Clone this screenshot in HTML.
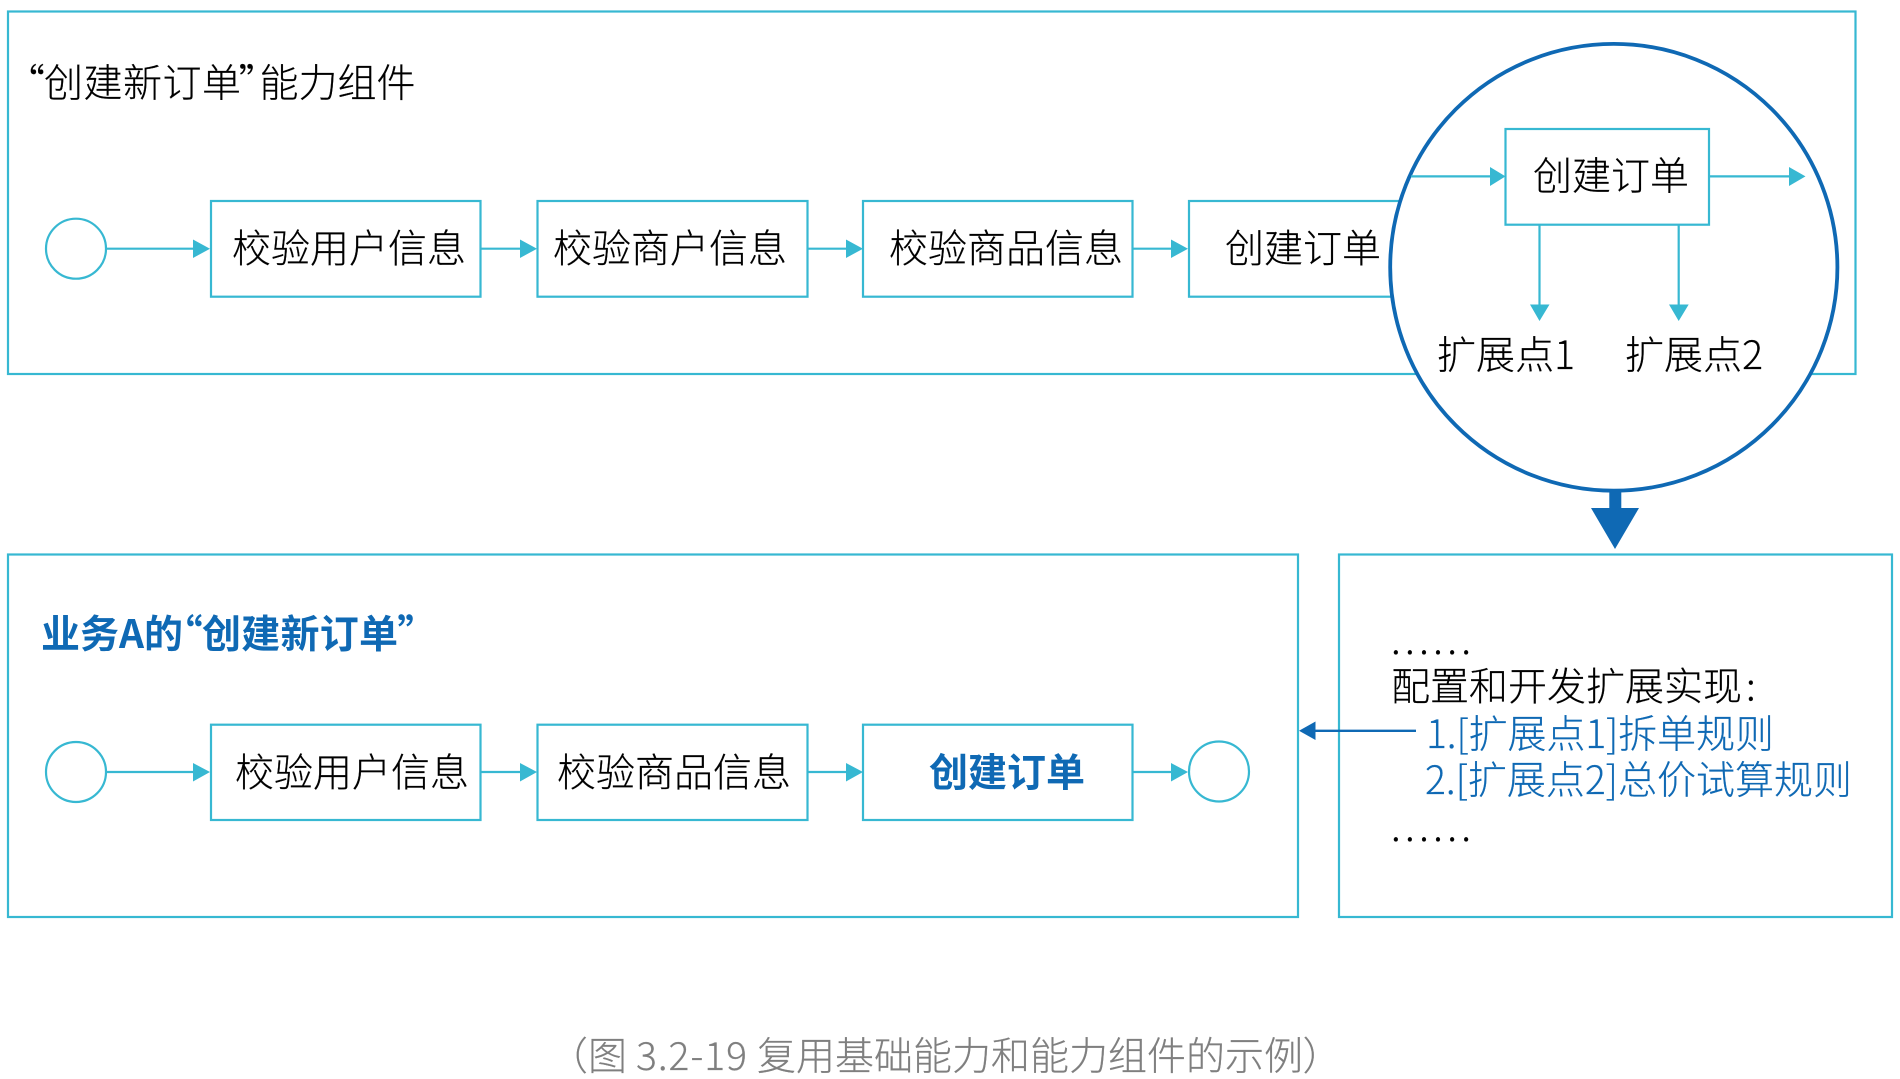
<!DOCTYPE html>
<html><head><meta charset="utf-8">
<style>
html,body{margin:0;padding:0;background:#fff;width:1900px;height:1079px;overflow:hidden}
svg{display:block}
text{font-family:"Noto Sans CJK SC","Noto Sans CJK JP",sans-serif;font-size:39px;font-weight:300;fill:#000;stroke:#000;stroke-width:.2}
.p{font-feature-settings:"palt"}
.b{fill:#0f69b4;stroke:#0f69b4}
.bb{fill:#0f69b4;stroke:none;font-weight:700}
.g{fill:#7f7f7f;stroke:#7f7f7f}
.box{fill:#fff;stroke:#37b8d2;stroke-width:2.2}
.l{stroke:#37b8d2;stroke-width:2.2;fill:none}
.h{fill:#37b8d2;stroke:none}
</style></head><body>
<svg width="1900" height="1079" viewBox="0 0 1900 1079" xmlns="http://www.w3.org/2000/svg">
<rect class="box" x="8" y="11.5" width="1847.5" height="362.5"/>
<rect class="box" x="8" y="554.5" width="1290" height="362.5"/>
<rect class="box" x="1339" y="554.5" width="553" height="362.5"/>

<text x="25" y="97" class="p">“</text>
<text x="44" y="97" textLength="197" lengthAdjust="spacing">创建新订单</text>
<text x="239" y="97" class="p">”</text>
<text x="259.5" y="97" textLength="156" lengthAdjust="spacing">能力组件</text>

<!-- upper row -->
<circle class="box" cx="76" cy="248.7" r="30"/>
<rect class="box" x="211" y="201" width="269.5" height="95.7"/>
<rect class="box" x="537.5" y="201" width="270" height="95.7"/>
<rect class="box" x="863" y="201" width="269.5" height="95.7"/>
<rect class="box" x="1189" y="201" width="270" height="95.7"/>
<path class="l" d="M106 248.7H195M481 248.7H522M808 248.7H848M1133 248.7H1174"/>
<path class="h" d="M193 239.5L210 248.7L193 258zM520 239.5L537 248.7L520 258zM846 239.5L863 248.7L846 258zM1171 239.5L1188 248.7L1171 258z"/>
<text x="232" y="262.7" textLength="234" lengthAdjust="spacing">校验用户信息</text>
<text x="553" y="262.7" textLength="234" lengthAdjust="spacing">校验商户信息</text>
<text x="889" y="262.7" textLength="234" lengthAdjust="spacing">校验商品信息</text>
<text x="1225" y="262.7" textLength="156" lengthAdjust="spacing">创建订单</text>

<!-- big circle -->
<ellipse cx="1613.8" cy="267.3" rx="223.6" ry="223.4" fill="#fff" stroke="#0f69b4" stroke-width="3.8"/>
<rect class="box" x="1505.5" y="129" width="203.5" height="95.7"/>
<path class="l" d="M1411 176.4H1492M1709 176.4H1790M1539.5 224.7V306M1678.7 224.7V306"/>
<path class="h" d="M1490 167L1505.5 176.4L1490 186zM1789 167L1805.5 176.4L1789 186zM1530 304.5H1549.5L1539.5 321zM1669 304.5H1688.7L1678.7 321z"/>
<text x="1533" y="190" textLength="156" lengthAdjust="spacing">创建订单</text>
<text x="1437" y="369" textLength="138" lengthAdjust="spacing">扩展点1</text>
<text x="1625" y="369" textLength="138" lengthAdjust="spacing">扩展点2</text>

<!-- big arrow -->
<path fill="#0f69b4" d="M1609.3 490H1621.3V508H1639L1615 549L1591 508H1609.3z"/>

<!-- lower row -->
<text x="41" y="648" class="bb" textLength="142" lengthAdjust="spacing">业务A的</text>
<text x="183" y="648" class="bb p">“</text>
<text x="202" y="648" class="bb" textLength="196" lengthAdjust="spacing">创建新订单</text>
<text x="397.5" y="648" class="bb p">”</text>
<circle class="box" cx="76" cy="772" r="30"/>
<rect class="box" x="211" y="724.7" width="269.5" height="95.3"/>
<rect class="box" x="537.5" y="724.7" width="270" height="95.3"/>
<rect class="box" x="863" y="724.7" width="269.5" height="95.3"/>
<circle class="box" cx="1219" cy="771.5" r="30"/>
<path class="l" d="M106 772H195M481 772H522M808 772H848M1133 772H1174"/>
<path class="h" d="M193 763L210 772L193 781.5zM520 763L537 772L520 781.5zM846 763L863 772L846 781.5zM1171 763L1188 772L1171 781.5z"/>
<text x="235" y="786.5" textLength="234" lengthAdjust="spacing">校验用户信息</text>
<text x="557" y="786.5" textLength="234" lengthAdjust="spacing">校验商品信息</text>
<text x="929" y="786.5" class="bb" textLength="156" lengthAdjust="spacing">创建订单</text>

<!-- right panel -->
<text x="1391" y="654" textLength="80" lengthAdjust="spacing" font-weight="400">......</text>
<text x="1391" y="700.6" textLength="351" lengthAdjust="spacing">配置和开发扩展实现</text>
<text x="1746" y="700.6" font-weight="400">:</text>
<text x="1426" y="748" class="b" textLength="348" lengthAdjust="spacing">1.[扩展点1]拆单规则</text>
<text x="1425" y="794" class="b" textLength="427" lengthAdjust="spacing">2.[扩展点2]总价试算规则</text>
<text x="1391" y="841" textLength="80" lengthAdjust="spacing" font-weight="400">......</text>
<path d="M1416 730.8H1312" stroke="#0f69b4" stroke-width="2.4" fill="none"/>
<path fill="#0f69b4" d="M1299 730.8L1315.5 721.5V740z"/>

<text x="567" y="1070" class="g p">（</text>
<text x="588" y="1070" class="g">图</text>
<text x="636" y="1070" class="g" textLength="111" lengthAdjust="spacing">3.2-19</text>
<text x="757" y="1070" class="g" textLength="546" lengthAdjust="spacing">复用基础能力和能力组件的示例</text>
<text x="1304" y="1070" class="g p">）</text>
</svg>
</body></html>
